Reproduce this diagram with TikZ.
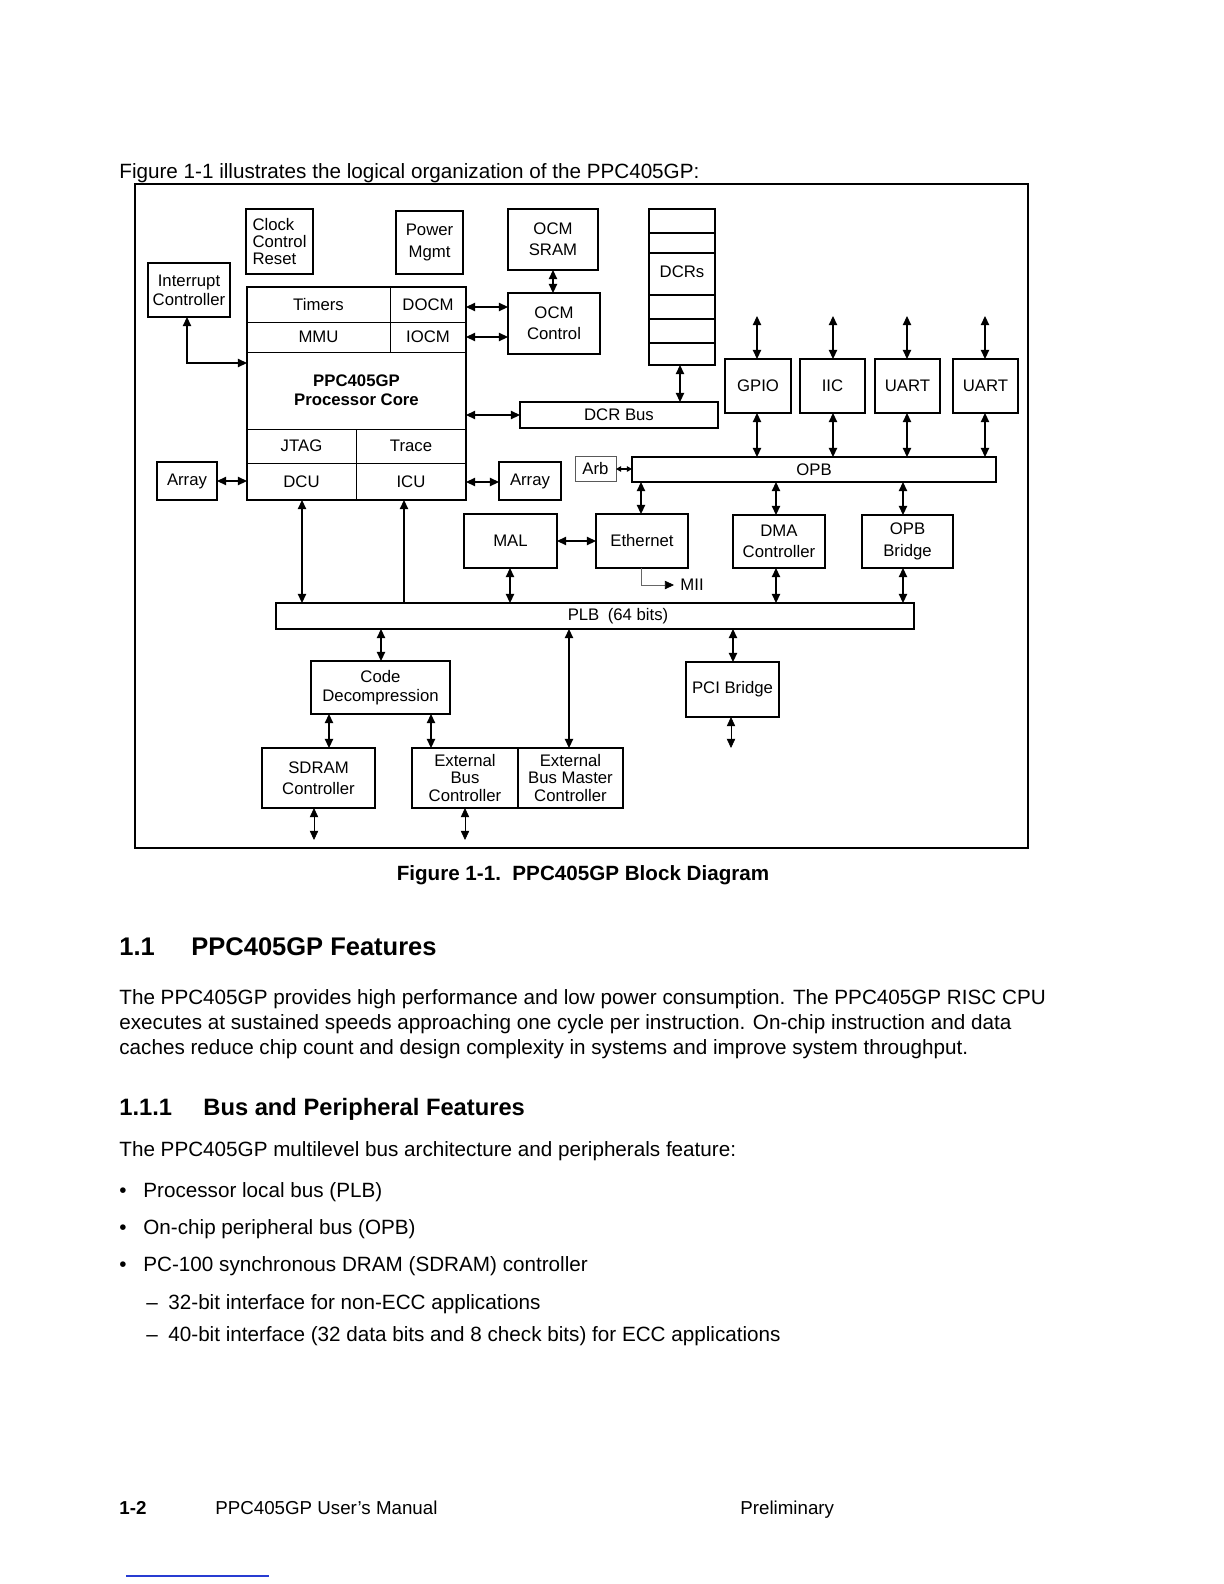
\documentclass[tikz,border=0pt]{standalone}
\usepackage{fontspec}
\setmainfont{Liberation Sans}
\usetikzlibrary{arrows.meta,fit}
\definecolor{pageblue}{RGB}{40,60,210}
\newcommand\dfont{\fontsize{8.4}{8.7}\selectfont}
\newcommand\btext{\fontsize{10.37}{12.6}\selectfont}
\newcommand\bx[7][]{\node[box,#1,minimum width={(#5-#3)*0.5bp},minimum height={(#6-#4)*0.5bp}] (#2) at ({(#3+#5)/2},{(#4+#6)/2}) {#7};}
\tikzset{
  box/.style={draw, line width=0.7pt, inner sep=0pt, outer sep=0pt, align=center, font=\dfont},
  cell/.style={line width=0.45pt},
  bus/.style={line width=1.3pt},
  tip/.tip={Triangle[length=4.6pt,width=4.2pt]},
  stip/.tip={Triangle[length=2.6pt,width=2.8pt]},
  dar/.style={line width=0.6pt, tip-tip},
  sdar/.style={line width=0.6pt, stip-stip},
  uar/.style={line width=0.6pt, -tip},
  txt/.style={anchor=base west, inner sep=0pt, font=\btext},
}
\begin{document}
\begin{tikzpicture}[x=0.5bp,y=-0.5bp]
\useasboundingbox[fill=white] (0,0) rectangle (1224,1584);

% ---------- page text ----------
\node[txt] (intro) at (119,178) {Figure 1-1 illustrates the logical organization of the PPC405GP:};
\node[txt, anchor=base, font=\fontsize{10.35}{12}\selectfont\bfseries] (cap) at (583,880) {Figure 1-1.\ \ PPC405GP Block Diagram};
\node[txt, font=\fontsize{12.8}{15}\selectfont\bfseries] (h1n) at (119,955) {1.1};
\node[txt, font=\fontsize{12.8}{15}\selectfont\bfseries] (h1) at (191,955) {PPC405GP Features};
\node[txt] (p1) at (119,1004) {The PPC405GP provides high performance and low power consumption. The PPC405GP RISC CPU};
\node[txt] (p2) at (119,1029) {executes at sustained speeds approaching one cycle per instruction. On-chip instruction and data};
\node[txt] (p3) at (119,1054) {caches reduce chip count and design complexity in systems and improve system throughput.};
\node[txt, font=\fontsize{11.9}{14}\selectfont\bfseries] (h2n) at (119,1115) {1.1.1};
\node[txt, font=\fontsize{11.9}{14}\selectfont\bfseries] (h2) at (203,1115) {Bus and Peripheral Features};
\node[txt] (p4) at (119,1156) {The PPC405GP multilevel bus architecture and peripherals feature:};
\node[txt] (b1) at (119,1197) {•};
\node[txt] (t1) at (143,1197) {Processor local bus (PLB)};
\node[txt] (b2) at (119,1234) {•};
\node[txt] (t2) at (143,1234) {On-chip peripheral bus (OPB)};
\node[txt] (b3) at (119,1271) {•};
\node[txt] (t3) at (143,1271) {PC-100 synchronous DRAM (SDRAM) controller};
\node[txt] (d1) at (146,1309) {–};
\node[txt] (s1) at (168,1309) {32-bit interface for non-ECC applications};
\node[txt] (d2) at (146,1341) {–};
\node[txt] (s2) at (168,1341) {40-bit interface (32 data bits and 8 check bits) for ECC applications};
\node[txt, font=\fontsize{9.4}{11}\selectfont\bfseries] (f1) at (119,1514) {1-2};
\node[txt, font=\fontsize{9.4}{11}\selectfont] (f2) at (215,1514) {PPC405GP User’s Manual};
\node[txt, font=\fontsize{9.4}{11}\selectfont] (f3) at (740,1514) {Preliminary};
\draw[line width=0.6pt, pageblue] (126,1576) -- (269,1576);

% ---------- frame ----------
\draw[line width=1.1pt] (135,184) rectangle (1028,848);

% ---------- boxes ----------
\bx[align=left]{ccr}{246}{209}{313}{274}{Clock\\Control\\Reset}
\bx{pwr}{396}{211}{463}{274}{Power\\[2pt]Mgmt}
\bx{ocmsram}{508}{209}{598}{270}{OCM\\[2pt]SRAM}
\bx{intc}{148}{263}{230}{317}{Interrupt\\[1pt]Controller}
\bx{ocmctl}{508}{293}{600}{354}{OCM\\[2pt]Control}

% core subdivisions
\bx[cell]{timers}{247}{287}{390}{322}{Timers}
\bx[cell]{docm}{390}{287}{466}{322}{DOCM}
\bx[cell]{mmu}{247}{322}{390}{352}{MMU}
\bx[cell]{iocm}{390}{322}{466}{352}{IOCM}
\bx[cell, font=\dfont\bfseries]{pcore}{247}{352}{466}{429}{PPC405GP\\[1pt]Processor Core}
\bx[cell]{jtag}{247}{429}{356}{463}{JTAG}
\bx[cell]{trace}{356}{429}{466}{463}{Trace}
\bx[cell]{dcu}{247}{463}{356}{500}{DCU}
\bx[cell]{icu}{356}{463}{466}{500}{ICU}
\node[draw, line width=1.2pt, inner sep=0pt, outer sep=0pt, fit={(247,287)(466,500)}] (core) {};

\bx{dcrs}{649}{209}{715}{365}{}
\foreach \yy in {233,253,295,319,343} \draw[line width=0.6pt] (dcrs.west |- 0,\yy) -- (dcrs.east |- 0,\yy);
\node[font=\dfont] (dcrst) at (682,272) {DCRs};

\bx[bus]{dcrbus}{520}{402}{718}{428}{DCR Bus}
\bx{gpio}{725}{359}{791}{413}{GPIO}
\bx{iic}{800}{359}{865}{413}{IIC}
\bx{uart1}{875}{359}{940}{413}{UART}
\bx{uart2}{953}{359}{1018}{413}{UART}
\bx[bus]{opb}{632}{457}{996}{482}{OPB}
\bx[line width=0.5pt, draw=black!65]{arb}{575}{456}{616}{481}{Arb}
\bx{arrayl}{157}{462}{217}{500}{Array}
\bx{arrayr}{499}{462}{561}{500}{Array}
\bx{mal}{464}{514}{557}{568}{MAL}
\bx{eth}{596}{514}{688}{568}{Ethernet}
\bx{dma}{733}{515}{825}{568}{DMA\\[2pt]Controller}
\bx{opbbr}{862}{515}{953}{568}{OPB\\[2pt]Bridge}
\bx[bus]{plb}{276}{603}{914}{629}{\hspace*{23bp}PLB\enspace(64 bits)}
\bx{code}{311}{661}{450}{714}{Code\\[1pt]Decompression}
\bx{pci}{686}{662}{779}{717}{PCI Bridge}
\bx{sdram}{262}{748}{375}{808}{SDRAM\\[2pt]Controller}
\bx{ebc}{412}{748}{518}{808}{External\\Bus\\Controller}
\bx{ebm}{518}{748}{623}{808}{External\\Bus Master\\Controller}
\node[font=\dfont, anchor=west, inner sep=0pt] (mii) at (680,585) {MII};

% ---------- connectors ----------
\draw[dar] (ocmsram.south -| 553,0) -- (ocmctl.north -| 553,0);
\draw[dar] (docm.east |- 0,307) -- (ocmctl.west |- 0,307);
\draw[dar] (iocm.east |- 0,337) -- (ocmctl.west |- 0,337);
\draw[dar] (intc.south -| 187,0) |- (core.west |- 0,363);
\draw[dar] (core.east |- 0,415) -- (dcrbus.west |- 0,415);
\draw[dar] (dcrs.south -| 680,0) -- (dcrbus.north -| 680,0);
\draw[dar] (arrayl.east |- 0,481) -- (dcu.west |- 0,481);
\draw[dar] (icu.east |- 0,482) -- (arrayr.west |- 0,482);
\draw[sdar] (arb.east |- 0,469) -- (opb.west |- 0,469);
\coordinate (io1) at (757,316);
\coordinate (io2) at (833,316);
\coordinate (io3) at (907,316);
\coordinate (io4) at (985,316);
\draw[dar] (io1) -- (gpio.north -| io1);
\draw[dar] (io2) -- (iic.north -| io2);
\draw[dar] (io3) -- (uart1.north -| io3);
\draw[dar] (io4) -- (uart2.north -| io4);
\draw[dar] (gpio.south -| io1) -- (opb.north -| io1);
\draw[dar] (iic.south -| io2) -- (opb.north -| io2);
\draw[dar] (uart1.south -| io3) -- (opb.north -| io3);
\draw[dar] (uart2.south -| io4) -- (opb.north -| io4);
\draw[dar] (opb.south -| 641,0) -- (eth.north -| 641,0);
\draw[dar] (opb.south -| 776,0) -- (dma.north -| 776,0);
\draw[dar] (opb.south -| 903,0) -- (opbbr.north -| 903,0);
\draw[dar] (mal.east |- 0,541) -- (eth.west |- 0,541);
\draw[dar] (mal.south -| 510,0) -- (plb.north -| 510,0);
\draw[dar] (dma.south -| 776,0) -- (plb.north -| 776,0);
\draw[dar] (opbbr.south -| 903,0) -- (plb.north -| 903,0);
\draw[dar] (dcu.south -| 302,0) -- (plb.north -| 302,0);
\draw[uar] (plb.north -| 404,0) -- (icu.south -| 404,0);
\draw[line width=0.4pt, black!60, -{Triangle[length=4.6pt,width=4.2pt,color=black]}] (eth.south -| 641,0) |- ([xshift=-3pt]mii.west);
\draw[dar] (plb.south -| 381,0) -- (code.north -| 381,0);
\draw[dar] (plb.south -| 733,0) -- (pci.north -| 733,0);
\coordinate (pcio) at (731,748);
\draw[dar, line width=0.4pt] (pci.south -| pcio) -- (pcio);
\draw[dar] (plb.south -| 569,0) -- (ebm.north -| 569,0);
\draw[dar] (code.south -| 329,0) -- (sdram.north -| 329,0);
\draw[dar] (code.south -| 431,0) -- (ebc.north -| 431,0);
\coordinate (sdo) at (314,840);
\coordinate (ebo) at (465,840);
\draw[dar, line width=0.4pt] (sdram.south -| sdo) -- (sdo);
\draw[dar, line width=0.4pt] (ebc.south -| ebo) -- (ebo);
\end{tikzpicture}
\end{document}
